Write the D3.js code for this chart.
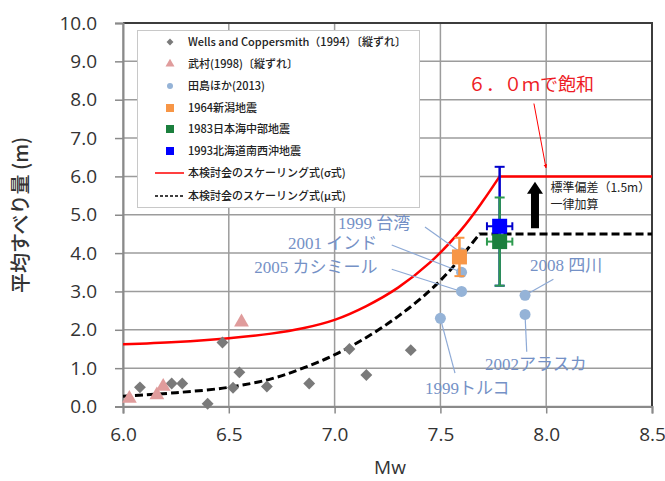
<!DOCTYPE html>
<html><head><meta charset="utf-8">
<script src="https://cdn.jsdelivr.net/npm/d3@7"></script>
<style>body{margin:0;background:#fff;} svg{display:block;}</style>
</head><body>
<svg id="chart" width="665" height="481"></svg>
<script>
// ---------- data ----------
const xTicks = [6.0, 6.5, 7.0, 7.5, 8.0, 8.5];
const yTicks = [0,1,2,3,4,5,6,7,8,9,10];

const wellsMw   = [6.08, 6.23, 6.28, 6.40, 6.47, 6.52, 6.55, 6.68, 6.88, 7.07, 7.15, 7.36];
const wellsSlip = [0.50, 0.60, 0.60, 0.07, 1.67, 0.49, 0.89, 0.52, 0.60, 1.50, 0.82, 1.47];

const takemuraMw   = [6.03, 6.16, 6.19, 6.56];
const takemuraSlip = [0.21, 0.30, 0.52, 2.20];

const tajimaLabels = ["1999 台湾", "2001 インド", "2005 カシミール", "1999トルコ", "2008 四川", "2002アラスカ"];
const tajimaMw     = [7.60, 7.60, 7.60, 7.50, 7.90, 7.90];
const tajimaSlip   = [4.00, 3.50, 3.00, 2.30, 2.90, 2.40];
const tajimaLabelMw   = [7.016, 6.78, 6.62, 7.427, 7.923, 7.711];
const tajimaLabelSlip = [4.78, 4.26, 3.63, 0.48, 3.69, 1.11];
const tajimaLeadMw    = [7.427, 7.27, 7.27, 7.569, 8.034, 7.908];
const tajimaLeadSlip  = [4.68, 4.21, 3.58, 0.87, 3.32, 1.43];

const eventNames   = ["1964新潟地震", "1983日本海中部地震", "1993北海道南西沖地震"];
const eventMw      = [7.59, 7.78, 7.78];
const eventSlip    = [3.90, 4.30, 4.70];
const eventSlipErr = [0.50, 1.15, 1.55];
const eventMwErr   = [0.00, 0.06, 0.06];
const eventColors  = ["#f79646", "#1b7f3d", "#0000ff"];
const eventErrColors = ["#f79646", "#2e9a4e", "#0000cc"];

const sigmaMw   = [6.00, 6.25, 6.50, 6.70, 6.85, 7.00, 7.15, 7.30, 7.45, 7.60, 7.70, 7.78, 8.50];
const sigmaSlip = [1.62, 1.68, 1.78, 1.90, 2.04, 2.26, 2.62, 3.10, 3.75, 4.62, 5.35, 6.00, 6.00];

const muMw   = [6.00, 6.25, 6.50, 6.70, 6.85, 7.00, 7.15, 7.30, 7.45, 7.55, 7.63, 7.685, 8.50];
const muSlip = [0.27, 0.36, 0.50, 0.72, 1.00, 1.35, 1.80, 2.35, 3.02, 3.58, 4.12, 4.50, 4.50];

const legendLabels = ["Wells and Coppersmith（1994）〔縦ずれ〕", "武村(1998)〔縦ずれ〕", "田島ほか(2013)",
  "1964新潟地震", "1983日本海中部地震", "1993北海道南西沖地震",
  "本検討会のスケーリング式(σ式)", "本検討会のスケーリング式(μ式)"];

// annotations (data coords)
const satText = "６．０ｍで飽和";
const satTextPos = [7.63, 8.38];
const satArrow = [[7.942, 7.90], [7.999, 6.22]];
const sdArrow = [[7.947, 4.65], [7.947, 5.86]];
const sdText = ["標準偏差（1.5m）", "一律加算"];
const sdTextPos = [[8.02, 5.69], [8.02, 5.25]];

// ---------- drawing ----------
const svg = d3.select("#chart");
const x = d3.scaleLinear().domain([6, 8.5]).range([123, 652]);
const y = d3.scaleLinear().domain([0, 10]).range([406.5, 23]);
const tickFont = "'Open Sans', 'Noto Sans', sans-serif";
const jp = "'Noto Sans CJK JP', 'Noto Sans', sans-serif";

// grid
const grid = svg.append("g");
grid.selectAll("line.h").data(yTicks).join("line")
  .attr("x1", x(6)).attr("x2", x(8.5)).attr("y1", d => y(d)).attr("y2", d => y(d))
  .attr("stroke", "#9c9c9c").attr("stroke-width", 1.5);
grid.selectAll("line.v").data(xTicks).join("line")
  .attr("y1", y(0)).attr("y2", y(10)).attr("x1", d => x(d)).attr("x2", d => x(d))
  .attr("stroke", "#9c9c9c").attr("stroke-width", 1.5);
// frame top/right
svg.append("path").attr("d", `M${x(6)},${y(10)}H${x(8.5)}V${y(0)}`)
  .attr("fill", "none").attr("stroke", "#3c3c3c").attr("stroke-width", 2);

// axes
const yAxis = svg.append("g").attr("transform", `translate(${x(6)},0)`)
  .call(d3.axisLeft(y).tickValues(yTicks).tickSize(8).tickPadding(18).tickFormat(d3.format(".1f")));
const xAxis = svg.append("g").attr("transform", `translate(0,${y(0)})`)
  .call(d3.axisBottom(x).tickValues(xTicks).tickSize(7).tickPadding(14).tickFormat(d3.format(".1f")));
[yAxis, xAxis].forEach(a => {
  a.select(".domain").attr("stroke", "#8a8a8a").attr("stroke-width", 2);
  a.selectAll(".tick line").attr("stroke", "#8a8a8a").attr("stroke-width", 1.5);
  a.selectAll(".tick text").attr("fill", "#333").style("font-family", tickFont).style("font-size", "19px");
});

svg.append("text").attr("x", 390).attr("y", 474).attr("text-anchor", "middle")
  .style("font-family", tickFont).style("font-size", "19px").attr("fill", "#333").text("Mw");
svg.append("text").attr("transform", "translate(28,215) rotate(-90)").attr("text-anchor", "middle")
  .style("font-family", jp).style("font-size", "20px").style("font-weight", "500").attr("fill", "#333").text("平均すべり量 (m)");

// curves
const line = d3.line().x(d => x(d[0])).y(d => y(d[1]));
function satPath(mws, slips) {
  const pts = mws.map((m, i) => [m, slips[i]]);
  const rise = pts.slice(0, pts.length - 1);
  const last = pts[pts.length - 1];
  return line.curve(d3.curveCatmullRom.alpha(0.5))(rise) + `L${x(last[0])},${y(last[1])}`;
}
svg.append("path").attr("d", satPath(muMw, muSlip)).attr("fill", "none")
  .attr("stroke", "#000").attr("stroke-width", 3).attr("stroke-dasharray", "8,4");
svg.append("path").attr("d", satPath(sigmaMw, sigmaSlip)).attr("fill", "none")
  .attr("stroke", "#ff0000").attr("stroke-width", 2.5);

// wells diamonds
svg.append("g").selectAll("path").data(wellsMw).join("path")
  .attr("d", d3.symbol(d3.symbolDiamond2, 90))
  .attr("transform", (d, i) => `translate(${x(d)},${y(wellsSlip[i])})`)
  .attr("fill", "#7a7a7a");
// takemura triangles
svg.append("g").selectAll("path").data(takemuraMw).join("path")
  .attr("d", d3.symbol(d3.symbolTriangle, 95))
  .attr("transform", (d, i) => `translate(${x(d)},${y(takemuraSlip[i])})`)
  .attr("fill", "#e09c9c");

// tajima leaders, labels, circles
const tj = svg.append("g");
tj.selectAll("line").data(tajimaMw).join("line")
  .attr("x1", (d, i) => x(tajimaLeadMw[i])).attr("y1", (d, i) => y(tajimaLeadSlip[i]))
  .attr("x2", d => x(d)).attr("y2", (d, i) => y(tajimaSlip[i]))
  .attr("stroke", "#8eaad6").attr("stroke-width", 1.2);
tj.selectAll("text").data(tajimaLabels).join("text")
  .attr("x", (d, i) => x(tajimaLabelMw[i])).attr("y", (d, i) => y(tajimaLabelSlip[i]))
  .attr("dy", "0.35em").style("font-family", "'Liberation Serif', 'Noto Sans CJK JP', serif")
  .style("font-size", "17px").attr("fill", "#7591c6").text(d => d);
tj.selectAll("circle").data(tajimaMw).join("circle")
  .attr("cx", d => x(d)).attr("cy", (d, i) => y(tajimaSlip[i])).attr("r", 5.5)
  .attr("fill", "#95b3d7");

// events with error bars
const ev = svg.append("g");
const order = [0, 2, 1];
order.forEach(i => {
  const cx = x(eventMw[i]), cy = y(eventSlip[i]);
  const c = eventErrColors[i];
  const yt = y(eventSlip[i] + eventSlipErr[i]), yb = y(eventSlip[i] - eventSlipErr[i]);
  ev.append("line").attr("x1", cx).attr("x2", cx).attr("y1", yt).attr("y2", yb).attr("stroke", c).attr("stroke-width", 2.5);
  ev.append("line").attr("x1", cx - 5).attr("x2", cx + 5).attr("y1", yt).attr("y2", yt).attr("stroke", c).attr("stroke-width", 2);
  ev.append("line").attr("x1", cx - 5).attr("x2", cx + 5).attr("y1", yb).attr("y2", yb).attr("stroke", c).attr("stroke-width", 2);
  if (eventMwErr[i] > 0) {
    const xl = x(eventMw[i] - eventMwErr[i]), xr = x(eventMw[i] + eventMwErr[i]);
    ev.append("line").attr("x1", xl).attr("x2", xr).attr("y1", cy).attr("y2", cy).attr("stroke", c).attr("stroke-width", 2);
    ev.append("line").attr("x1", xl).attr("x2", xl).attr("y1", cy - 4).attr("y2", cy + 4).attr("stroke", c).attr("stroke-width", 2);
    ev.append("line").attr("x1", xr).attr("x2", xr).attr("y1", cy - 4).attr("y2", cy + 4).attr("stroke", c).attr("stroke-width", 2);
  }
});
order.forEach(i => {
  ev.append("rect").attr("x", x(eventMw[i]) - 7.5).attr("y", y(eventSlip[i]) - 7.5)
    .attr("width", 15).attr("height", 15).attr("fill", eventColors[i]);
});

// annotations
svg.append("defs").append("marker").attr("id", "redhead").attr("viewBox", "0 0 10 10")
  .attr("refX", 9).attr("refY", 5).attr("markerWidth", 4).attr("markerHeight", 4).attr("orient", "auto")
  .append("path").attr("d", "M0,0L10,5L0,10z").attr("fill", "#ff0000");
svg.append("line").attr("x1", x(satArrow[0][0])).attr("y1", y(satArrow[0][1]))
  .attr("x2", x(satArrow[1][0])).attr("y2", y(satArrow[1][1]))
  .attr("stroke", "#ff0000").attr("stroke-width", 1).attr("marker-end", "url(#redhead)");
svg.append("text").attr("x", x(satTextPos[0])).attr("y", y(satTextPos[1])).attr("dy", "0.35em")
  .style("font-family", jp).style("font-size", "18px").attr("fill", "#ee1c25").text(satText);
{
  const ax = x(sdArrow[0][0]), yb = y(sdArrow[0][1]), yt = y(sdArrow[1][1]);
  svg.append("path").attr("d", `M${ax - 4},${yb}V${yt + 12}H${ax - 8}L${ax},${yt}L${ax + 8},${yt + 12}H${ax + 4}V${yb}Z`)
    .attr("fill", "#000");
}
svg.append("g").selectAll("text").data(sdText).join("text")
  .attr("x", (d, i) => x(sdTextPos[i][0])).attr("y", (d, i) => y(sdTextPos[i][1])).attr("dy", "0.35em")
  .style("font-family", jp).style("font-size", "12px").attr("fill", "#222").text(d => d);

// legend
const lg = svg.append("g");
lg.append("rect").attr("x", 137.5).attr("y", 30.5).attr("width", 282).attr("height", 177)
  .attr("fill", "#fff").attr("stroke", "#c8c8c8").attr("stroke-width", 1);
const rowY = [42, 64, 86, 108, 129, 151, 173, 196];
lg.selectAll("text").data(legendLabels).join("text")
  .attr("x", 188).attr("y", (d, i) => rowY[i]).attr("dy", "0.35em")
  .style("font-family", jp).style("font-size", "11px").style("font-weight", "500").attr("fill", "#222").text(d => d);
lg.append("path").attr("d", d3.symbol(d3.symbolDiamond2, 30)).attr("transform", `translate(170,${rowY[0]})`).attr("fill", "#7a7a7a");
lg.append("path").attr("d", d3.symbol(d3.symbolTriangle, 35)).attr("transform", `translate(170,${rowY[1]})`).attr("fill", "#e09c9c");
lg.append("circle").attr("cx", 170).attr("cy", rowY[2]).attr("r", 3).attr("fill", "#95b3d7");
eventColors.forEach((c, i) => lg.append("rect").attr("x", 166).attr("y", rowY[3 + i] - 4).attr("width", 8).attr("height", 8).attr("fill", c));
lg.append("line").attr("x1", 155).attr("x2", 184).attr("y1", rowY[6]).attr("y2", rowY[6]).attr("stroke", "#ff0000").attr("stroke-width", 1.5);
lg.append("line").attr("x1", 155).attr("x2", 184).attr("y1", rowY[7]).attr("y2", rowY[7]).attr("stroke", "#000").attr("stroke-width", 1.5).attr("stroke-dasharray", "3,2");
</script>
</body></html>
